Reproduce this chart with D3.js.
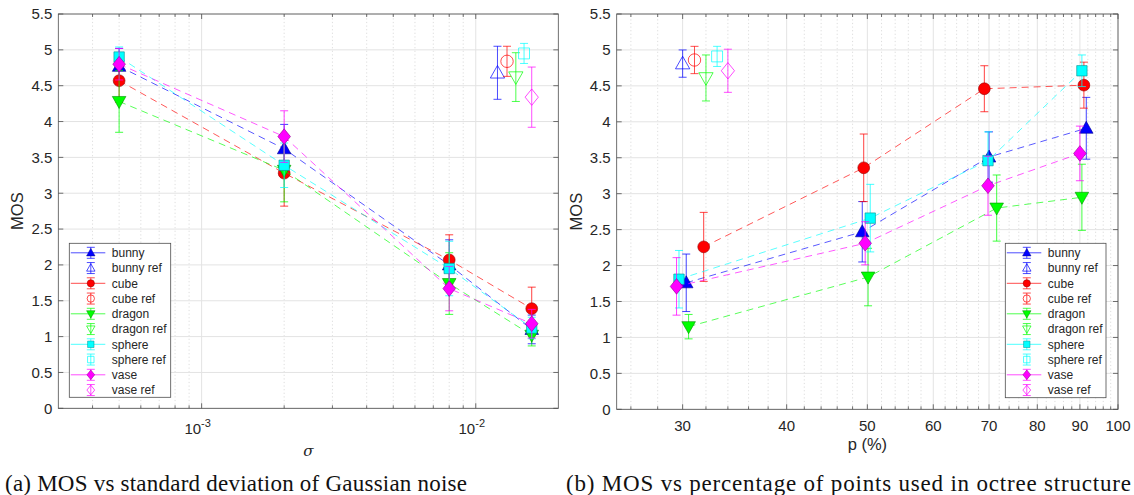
<!DOCTYPE html>
<html><head><meta charset="utf-8">
<script src="https://cdn.jsdelivr.net/npm/d3@7"></script>
<style>body{margin:0;background:#fff} svg{display:block}</style>
</head><body><svg id="c" width="1134" height="495"></svg>
<script>
// ---------- data ----------
const models = ["bunny","cube","dragon","sphere","vase"];
const colors = ["#0000ff","#ff0000","#00ff00","#00ffff","#ff00ff"];
const shapes = ["tri-up","circle","tri-down","square","diamond"];

// Panel (a): MOS vs sigma
const sigma = [5e-4, 2e-3, 8e-3, 0.016];
const mosA = [
  [4.77, 3.62, 2.00, 1.10],  // bunny
  [4.57, 3.28, 2.07, 1.39],  // cube
  [4.28, 3.32, 1.74, 1.02],  // dragon
  [4.90, 3.39, 1.95, 1.12],  // sphere
  [4.80, 3.79, 1.67, 1.18]   // vase
];
const errA = [
  [0.25, 0.34, 0.35, 0.20],
  [0.30, 0.46, 0.35, 0.30],
  [0.43, 0.44, 0.43, 0.15],
  [0.14, 0.31, 0.38, 0.15],
  [0.22, 0.36, 0.31, 0.20]
];
const refSigma = [0.012, 0.013, 0.014, 0.015, 0.016];
const refMosA = [4.68, 4.84, 4.62, 4.95, 4.34];
const refErrA = [0.37, 0.21, 0.34, 0.14, 0.42];

// Panel (b): MOS vs p (%)
const pB = [
  [30.3, 49.3, 70.0, 91.6],
  [31.8, 49.5, 69.1, 91.0],
  [30.5, 50.1, 71.5, 90.5],
  [29.7, 50.4, 69.8, 90.5],
  [29.5, 49.7, 69.8, 90.0]
];
const mosB = [
  [1.76, 2.47, 3.51, 3.91],
  [2.26, 3.36, 4.46, 4.51],
  [1.15, 1.84, 2.80, 2.95],
  [1.81, 2.66, 3.46, 4.71],
  [1.71, 2.31, 3.11, 3.56]
];
const errB = [
  [0.40, 0.42, 0.35, 0.43],
  [0.48, 0.47, 0.32, 0.32],
  [0.17, 0.40, 0.46, 0.46],
  [0.40, 0.47, 0.40, 0.22],
  [0.40, 0.30, 0.41, 0.38]
];
const refPB = [30, 31, 32, 33, 34];
const refMosB = [4.81, 4.86, 4.61, 4.91, 4.71];
const refErrB = [0.19, 0.19, 0.32, 0.14, 0.30];

// ticks
const yTicks = [0,0.5,1,1.5,2,2.5,3,3.5,4,4.5,5,5.5];
const xMajorA = [1e-3, 1e-2];
const xMajorALabels = [["10","-3"],["10","-2"]];
const xMinorA = [4e-4,5e-4,6e-4,7e-4,8e-4,9e-4,2e-3,3e-3,4e-3,5e-3,6e-3,7e-3,8e-3,9e-3];
const xMajorB = [30,40,50,60,70,80,90,100];
const xMinorB = [26,28,32,34,36,38,42,44,46,48,52,54,56,58,62,64,66,68,72,74,76,78,82,84,86,88,92,94,96,98];

const legendLabels = ["bunny","bunny ref","cube","cube ref","dragon","dragon ref","sphere","sphere ref","vase","vase ref"];
const captions = ["(a) MOS vs standard deviation of Gaussian noise", "(b) MOS vs percentage of points used in octree structure"];

// ---------- drawing ----------
const svg = d3.select("#c");
const FONT = "'Liberation Sans', Arial, Helvetica, sans-serif";
const TXT = "#262626";

function markerPath(shape, s) {
  const p = d3.path();
  if (shape === "tri-up") { p.moveTo(0,-7*s); p.lineTo(6.8*s,5*s); p.lineTo(-6.8*s,5*s); p.closePath(); }
  else if (shape === "tri-down") { p.moveTo(0,7*s); p.lineTo(6.8*s,-5*s); p.lineTo(-6.8*s,-5*s); p.closePath(); }
  else if (shape === "circle") { p.moveTo(5.9*s,0); p.arc(0,0,5.9*s,0,2*Math.PI); p.closePath(); }
  else if (shape === "square") { p.rect(-5.2*s,-5.2*s,10.4*s,10.4*s); }
  else if (shape === "diamond") { p.moveTo(0,-7.8*s); p.lineTo(6.3*s,0); p.lineTo(0,7.8*s); p.lineTo(-6.3*s,0); p.closePath(); }
  return p.toString();
}

function errorBar(g, x, y0, y1, color, op) {
  const cap = 4;
  g.append("line").attr("x1",x).attr("x2",x).attr("y1",y0).attr("y2",y1)
    .attr("stroke",color).attr("stroke-opacity",op).attr("stroke-width",1);
  [y0,y1].forEach(yy => g.append("line").attr("x1",x-cap).attr("x2",x+cap).attr("y1",yy).attr("y2",yy)
    .attr("stroke",color).attr("stroke-opacity",op).attr("stroke-width",1));
}

function panel(o) {
  const g = svg.append("g");
  const x = o.x, y = o.y;
  const [xl, xr] = x.range(), [yb, yt] = y.range();
  // grid
  o.xMinor.forEach(v => g.append("line").attr("x1",x(v)).attr("x2",x(v)).attr("y1",yb).attr("y2",yt)
    .attr("stroke","#cfcfcf").attr("stroke-width",0.7).attr("stroke-dasharray","1.2,2.4"));
  o.xMajor.forEach(v => g.append("line").attr("x1",x(v)).attr("x2",x(v)).attr("y1",yb).attr("y2",yt)
    .attr("stroke","#e3e3e3").attr("stroke-width",1));
  yTicks.forEach(v => g.append("line").attr("x1",xl).attr("x2",xr).attr("y1",y(v)).attr("y2",y(v))
    .attr("stroke","#e3e3e3").attr("stroke-width",1));

  // series
  models.forEach((m, i) => {
    const xs = o.xs[i], ys = o.mos[i], es = o.err[i], c = colors[i];
    const pts = ys.map((v,k)=>[x(xs[k]), y(v)]);
    g.append("path").attr("d", d3.line()(pts)).attr("fill","none")
      .attr("stroke",c).attr("stroke-opacity",0.65).attr("stroke-width",1).attr("stroke-dasharray","7,5");
    ys.forEach((v,k) => errorBar(g, x(xs[k]), y(v-es[k]), y(v+es[k]), c, 0.75));
    ys.forEach((v,k) => g.append("path").attr("d", markerPath(shapes[i],1))
      .attr("transform",`translate(${x(xs[k])},${y(v)})`)
      .attr("fill",c).attr("stroke",d3.color(c).darker(1.6)).attr("stroke-width",0.6));
    // reference
    const rx = x(o.refX[i]), rv = o.refMos[i], re = o.refErr[i];
    errorBar(g, rx, y(rv-re), y(rv+re), c, 0.7);
    g.append("path").attr("d", markerPath(shapes[i],1.05))
      .attr("transform",`translate(${rx},${y(rv)})`)
      .attr("fill","none").attr("stroke",c).attr("stroke-opacity",0.7).attr("stroke-width",1);
  });

  // frame + ticks
  g.append("rect").attr("x",xl).attr("y",yt).attr("width",xr-xl).attr("height",yb-yt)
    .attr("fill","none").attr("stroke","#4d4d4d").attr("stroke-width",0.8);
  const tk = (x1,y1,x2,y2) => g.append("line").attr("x1",x1).attr("y1",y1).attr("x2",x2).attr("y2",y2)
    .attr("stroke","#4d4d4d").attr("stroke-width",0.8);
  o.xMajor.forEach(v => { tk(x(v),yb,x(v),yb-5); tk(x(v),yt,x(v),yt+5); });
  o.xMinor.forEach(v => { tk(x(v),yb,x(v),yb-3); tk(x(v),yt,x(v),yt+3); });
  yTicks.forEach(v => { tk(xl,y(v),xl+5,y(v)); tk(xr,y(v),xr-5,y(v)); });

  // y tick labels
  yTicks.forEach(v => g.append("text").attr("x",xl-6).attr("y",y(v)).attr("dy","0.36em")
    .attr("text-anchor","end").attr("font-family",FONT).attr("font-size",15).attr("fill",TXT).text(v));
  // x tick labels
  o.xLabels(g);
  // axis labels
  g.append("text").attr("transform",`translate(${o.ylabX},${(yb+yt)/2}) rotate(-90)`).attr("text-anchor","middle")
    .attr("dy","0.36em").attr("font-family",FONT).attr("font-size",16.5).attr("fill",TXT).text("MOS");
  o.xTitle(g, (xl+xr)/2);

  // legend
  const L = o.legend;
  const lg = g.append("g");
  lg.append("rect").attr("x",L.x).attr("y",L.y).attr("width",L.w).attr("height",L.h)
    .attr("fill","#fff").attr("stroke","#4d4d4d").attr("stroke-width",0.8);
  legendLabels.forEach((lab, j) => {
    const i = Math.floor(j/2), isRef = j % 2 === 1, c = colors[i];
    const ry = L.y + 9.5 + j*15.25, mx = L.x + 21.5;
    if (!isRef) lg.append("line").attr("x1",L.x+1.5).attr("x2",L.x+36).attr("y1",ry).attr("y2",ry)
      .attr("stroke",c).attr("stroke-opacity",0.7).attr("stroke-width",1);
    lg.append("line").attr("x1",mx).attr("x2",mx).attr("y1",ry-5.5).attr("y2",ry+5.5)
      .attr("stroke",c).attr("stroke-opacity",0.7);
    [ry-5.5, ry+5.5].forEach(yy => lg.append("line").attr("x1",mx-4).attr("x2",mx+4).attr("y1",yy).attr("y2",yy)
      .attr("stroke",c).attr("stroke-opacity",0.7));
    const mk = lg.append("path").attr("d", markerPath(shapes[i], 0.62)).attr("transform",`translate(${mx},${ry})`);
    if (isRef) mk.attr("fill","none").attr("stroke",c).attr("stroke-opacity",0.7);
    else mk.attr("fill",c).attr("stroke",d3.color(c).darker(1.6)).attr("stroke-width",0.5);
    lg.append("text").attr("x",L.x+42.5).attr("y",ry).attr("dy","0.36em")
      .attr("font-family",FONT).attr("font-size",12).attr("fill",TXT).text(lab);
  });
}

// Panel (a)
const xA = d3.scaleLog().domain([3e-4, 2e-2]).range([58.3, 558.3]);
const yA = d3.scaleLinear().domain([0, 5.5]).range([408.3, 14]);
panel({
  x: xA, y: yA, xs: models.map(() => sigma), mos: mosA, err: errA,
  refX: refSigma, refMos: refMosA, refErr: refErrA,
  xMajor: xMajorA, xMinor: xMinorA, ylabX: 17.5,
  legend: {x: 69.3, y: 243.3, w: 101.4, h: 154},
  xLabels: g => xMajorA.forEach((v,k) => {
    const t = g.append("text").attr("x",xA(v)-4).attr("y",434).attr("text-anchor","middle")
      .attr("font-family",FONT).attr("font-size",15).attr("fill",TXT);
    t.append("tspan").text(xMajorALabels[k][0]);
    t.append("tspan").attr("dy",-7).attr("font-size",11).text(xMajorALabels[k][1]);
  }),
  xTitle: (g, cx) => g.append("text").attr("x",cx).attr("y",456).attr("text-anchor","middle")
    .attr("font-family","'DejaVu Serif', serif").attr("font-style","italic").attr("font-size",15).attr("fill",TXT).text("σ")
});

// Panel (b)
const xB = d3.scaleLog().domain([25, 100]).range([616.7, 1118]);
const yB = d3.scaleLinear().domain([0, 5.5]).range([409.3, 14]);
panel({
  x: xB, y: yB, xs: pB, mos: mosB, err: errB,
  refX: refPB, refMos: refMosB, refErr: refErrB,
  xMajor: xMajorB, xMinor: xMinorB, ylabX: 576.5,
  legend: {x: 1005.3, y: 243.3, w: 100.7, h: 154.4},
  xLabels: g => xMajorB.forEach(v => g.append("text").attr("x",xB(v)).attr("y",426).attr("dy","0.36em")
    .attr("text-anchor","middle").attr("font-family",FONT).attr("font-size",15).attr("fill",TXT).text(v)),
  xTitle: (g, cx) => g.append("text").attr("x",cx).attr("y",444).attr("dy","0.36em").attr("text-anchor","middle")
    .attr("font-family",FONT).attr("font-size",16.5).attr("fill",TXT).text("p (%)")
});

// captions
const CAP = "'Liberation Serif', 'Times New Roman', serif";
const capPos = [[5, 462], [566, 565]];
captions.forEach((txt, k) => svg.append("text").attr("x",capPos[k][0]).attr("y",491)
  .attr("textLength",capPos[k][1]).attr("lengthAdjust","spacing")
  .attr("font-family",CAP).attr("font-size",23).attr("fill","#111").text(txt));
</script></body></html>
